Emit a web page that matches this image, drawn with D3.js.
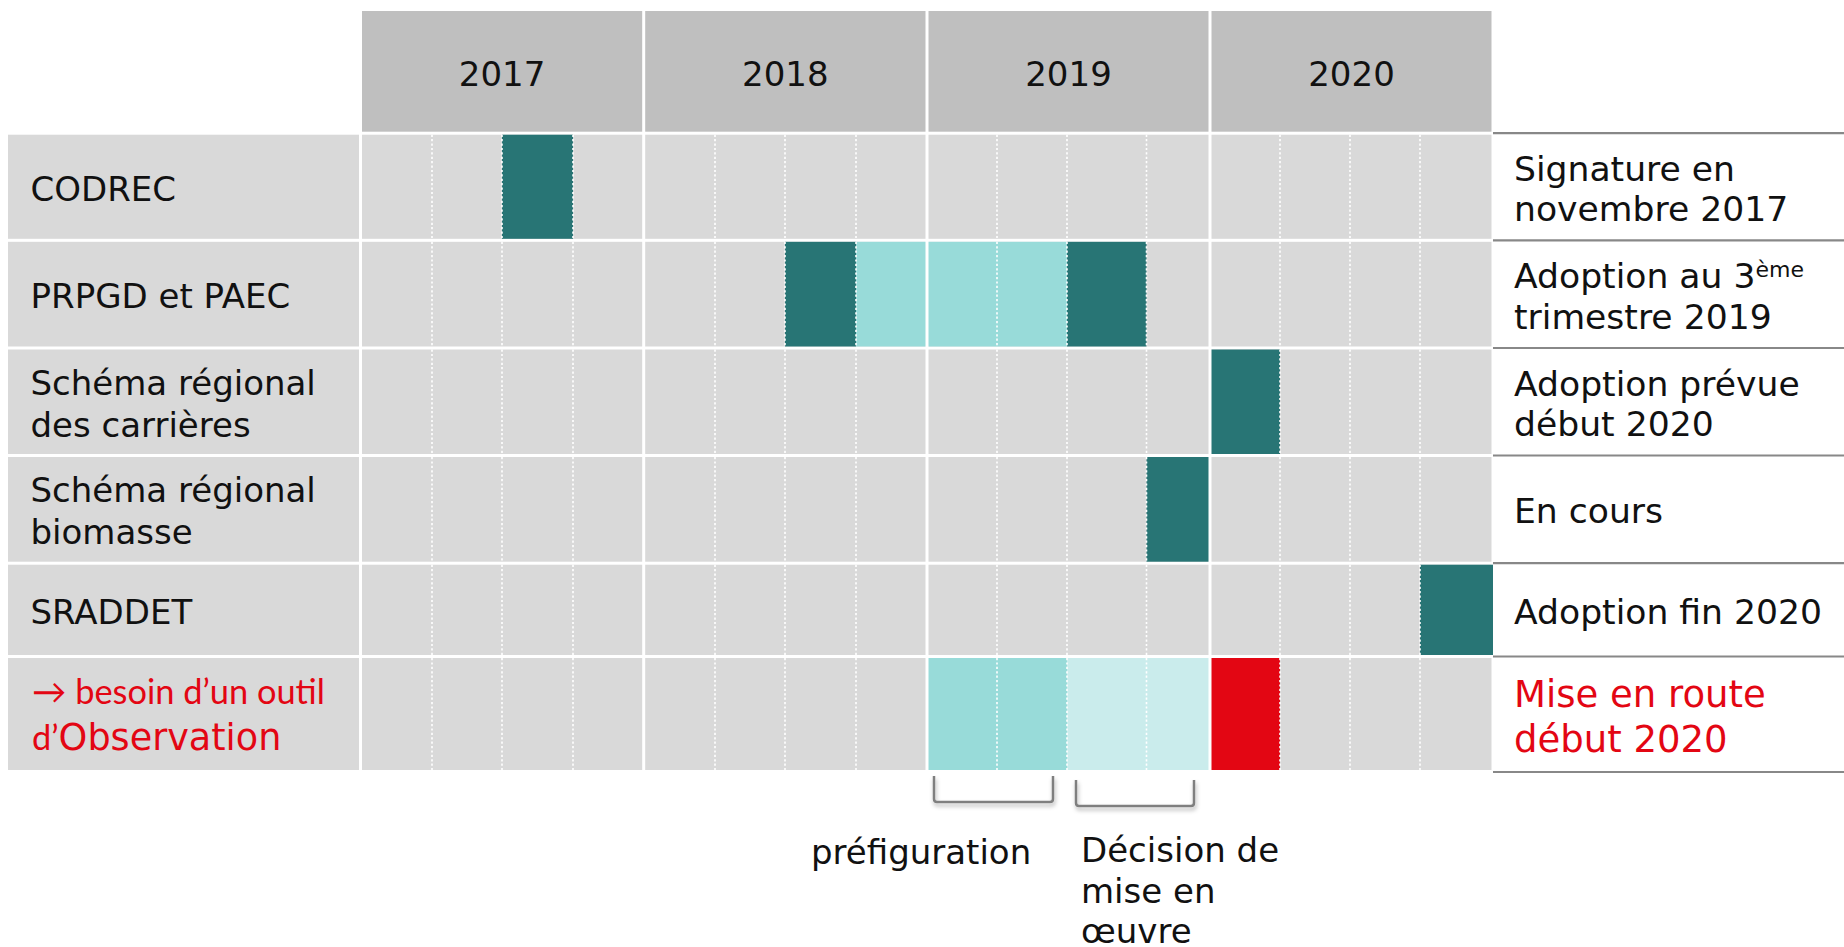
<!DOCTYPE html>
<html>
<head>
<meta charset="utf-8">
<script src="https://cdn.jsdelivr.net/npm/d3@7"></script>
<style>
  html, body { margin: 0; padding: 0; background: #fff; }
  svg { display: block; }
  text { font-family: "DejaVu Sans", Verdana, sans-serif; }
</style>
</head>
<body>
<div id="planning"></div>
<script>
// Data
const years = ["2017", "2018", "2019", "2020"];
const quartersPerYear = 4;

const tasks = [
    ["CODREC"],
    ["PRPGD et PAEC"],
    ["Schéma régional", "des carrières"],
    ["Schéma régional", "biomasse"],
    ["SRADDET"],
    ["→ besoin d’un outil", "d’Observation"]
];

const notes = [
    ["Signature en", "novembre 2017"],
    ["Adoption au 3|ème", "trimestre 2019"],
    ["Adoption prévue", "début 2020"],
    ["En cours"],
    ["Adoption fin 2020"],
    ["Mise en route", "début 2020"]
];

// quarter index: 0 = T1 2017 ... 15 = T4 2020
const barTask  = [0, 1, 1, 1, 2, 3, 4, 5, 5, 5];
const barStart = [2, 6, 7, 10, 12, 11, 15, 8, 10, 12];
const barEnd   = [3, 7, 10, 11, 13, 12, 16, 10, 12, 13];
const barKind  = ["jalon", "jalon", "travaux", "jalon", "jalon", "jalon", "jalon", "prefig", "decision", "lancement"];

const brackets = [
    { label: ["préfiguration"], start: 8, end: 10 },
    { label: ["Décision de", "mise en", "œuvre"], start: 10, end: 12 }
];

// Layout (table drawn with uneven PowerPoint columns)
const width = 1844, height = 947;
const quarterEdges = [360.5, 432, 502, 573, 643.7, 715, 785, 856, 927, 997, 1067, 1146.5, 1210, 1280, 1350, 1420, 1493];
const rowEdges = [133.2, 240.3, 348, 455.5, 563.2, 656.5, 771.5];
const headerTop = 11;
const gap = 3;
const red = "#e30613";

const colour = d3.scaleOrdinal()
    .domain(["jalon", "travaux", "prefig", "decision", "lancement"])
    .range(["#287575", "#98dbd9", "#98dbd9", "#caecec", "#e30613"]);

const x = d3.scaleLinear().domain(d3.range(quarterEdges.length)).range(quarterEdges);
const y = d3.scaleLinear().domain(d3.range(rowEdges.length)).range(rowEdges);

const svg = d3.select("#planning").append("svg")
    .attr("width", width)
    .attr("height", height);

const defs = svg.append("defs");
defs.append("filter").attr("id", "shadow")
    .attr("x", "-20%").attr("y", "-30%").attr("width", "140%").attr("height", "180%")
    .append("feDropShadow")
    .attr("dx", 1).attr("dy", 3).attr("stdDeviation", 2)
    .attr("flood-color", "#000").attr("flood-opacity", 0.3);

// header
svg.append("rect")
    .attr("x", x(0) + gap / 2)
    .attr("y", headerTop)
    .attr("width", x(16) - x(0) - gap)
    .attr("height", y(0) - gap / 2 - headerTop)
    .attr("fill", "#bfbfbf");

svg.selectAll(".year")
    .data(years)
    .enter().append("text")
    .attr("class", "year")
    .attr("x", (d, i) => (x(i * quartersPerYear) + x((i + 1) * quartersPerYear)) / 2)
    .attr("y", 86)
    .attr("text-anchor", "middle")
    .style("font-size", "34px")
    .attr("fill", "#111")
    .text(d => d);

// row backgrounds (label column + grid)
const rows = svg.append("g");
tasks.forEach((t, i) => {
    rows.append("rect")
        .attr("x", 8)
        .attr("y", y(i) + gap / 2)
        .attr("width", x(0) - gap / 2 - 8)
        .attr("height", y(i + 1) - y(i) - gap)
        .attr("fill", "#d9d9d9");
    rows.append("rect")
        .attr("x", x(0) + gap / 2)
        .attr("y", y(i) + gap / 2)
        .attr("width", x(16) - x(0) - gap)
        .attr("height", y(i + 1) - y(i) - gap)
        .attr("fill", "#d9d9d9");
});

// bars
svg.append("g").selectAll("rect")
    .data(barTask)
    .enter().append("rect")
    .attr("x", (d, i) => x(barStart[i]))
    .attr("y", d => y(d) + gap / 2)
    .attr("width", (d, i) => x(barEnd[i]) - x(barStart[i]))
    .attr("height", d => y(d + 1) - y(d) - gap)
    .attr("fill", (d, i) => colour(barKind[i]));

// dashed quarter lines
const qLines = svg.append("g");
tasks.forEach((t, i) => {
    d3.range(1, 16).filter(q => q % quartersPerYear !== 0).forEach(q => {
        qLines.append("line")
            .attr("x1", x(q)).attr("x2", x(q))
            .attr("y1", y(i) + gap / 2)
            .attr("y2", y(i + 1) - gap / 2)
            .attr("stroke", "#fff")
            .attr("stroke-width", 1.6)
            .attr("stroke-dasharray", "2.2,2.2");
    });
});

// solid year separators
svg.append("g").selectAll("rect")
    .data(d3.range(0, 16, quartersPerYear))
    .enter().append("rect")
    .attr("x", d => x(d) - gap / 2)
    .attr("y", headerTop)
    .attr("width", gap)
    .attr("height", y(6) - headerTop)
    .attr("fill", "#fff");

// baseline of the first line so that the block sits centred in row i
function baseline(i, n, lh, fs) {
    const c = (y(i) + y(i + 1)) / 2;
    return c + 1.5 + 0.365 * fs;
}

// row labels
tasks.forEach((lines, i) => {
    if (i === 5) return;
    const fs = 34, lh = 42;
    const b = baseline(i, lines.length, lh, fs);
    lines.forEach((l, k) => {
        svg.append("text")
            .attr("x", 30.5)
            .attr("y", b + (k - (lines.length - 1) / 2) * lh)
            .style("font-size", fs + "px")
            .attr("fill", "#111")
            .text(l);
    });
});

// red label, small font fitted to the slide width
const smallFont = "Lato, 'Open Sans', sans-serif";
const l1 = svg.append("text")
    .attr("x", 32).attr("y", 704)
    .style("font-family", smallFont)
    .style("font-size", "30px")
    .attr("fill", red)
    .text(tasks[5][0]);
const fitted = 30 * 293 / l1.node().getComputedTextLength();
l1.style("font-size", fitted + "px");
const l2 = svg.append("text")
    .attr("x", 32).attr("y", 750)
    .attr("fill", red);
l2.append("tspan")
    .style("font-family", smallFont)
    .style("font-size", fitted + "px")
    .text(tasks[5][1].slice(0, 2));
l2.append("tspan")
    .style("font-size", "36.6px")
    .text(tasks[5][1].slice(2));

// notes on the right
svg.append("g").selectAll("line")
    .data(rowEdges)
    .enter().append("line")
    .attr("x1", x(16)).attr("x2", width)
    .attr("y1", (d, i) => i === rowEdges.length - 1 ? d + 0.5 : d)
    .attr("y2", (d, i) => i === rowEdges.length - 1 ? d + 0.5 : d)
    .attr("stroke", "#888")
    .attr("stroke-width", 2.2);

notes.forEach((lines, i) => {
    const last = i === notes.length - 1;
    const fs = last ? 37 : 34.6, lh = last ? 45 : 40.7;
    const b = baseline(i, lines.length, lh, fs);
    lines.forEach((l, k) => {
        const t = svg.append("text")
            .attr("x", 1514)
            .attr("y", b + (k - (lines.length - 1) / 2) * lh)
            .style("font-size", fs + "px")
            .attr("fill", last ? red : "#111");
        const parts = l.split("|");
        t.append("tspan").text(parts[0]);
        if (parts[1]) {
            t.append("tspan")
                .attr("dy", -11)
                .style("font-size", "22px")
                .text(parts[1]);
        }
    });
});

// brackets under the observation row
const bracketG = svg.append("g");
brackets.forEach((br, i) => {
    const x0 = x(br.start) + (i === 0 ? 7 : 9);
    const x1 = x(br.end) - (i === 0 ? 14 : 16);
    const top = i === 0 ? 776 : 780;
    const bottom = top + 26;
    const r = 3;
    bracketG.append("path")
        .attr("d", `M${x0},${top} V${bottom - r} Q${x0},${bottom} ${x0 + r},${bottom} H${x1 - r} Q${x1},${bottom} ${x1},${bottom - r} V${top}`)
        .attr("fill", "none")
        .attr("stroke", "#7f7f7f")
        .attr("stroke-width", 2.5)
        .attr("filter", "url(#shadow)");
});

const labelX = [811, 1081];
const labelY = [864, 862];
brackets.forEach((br, i) => {
    br.label.forEach((l, k) => {
        svg.append("text")
            .attr("x", labelX[i])
            .attr("y", labelY[i] + k * 40.5)
            .style("font-size", "34px")
            .attr("fill", "#111")
            .text(l);
    });
});
</script>
</body>
</html>
